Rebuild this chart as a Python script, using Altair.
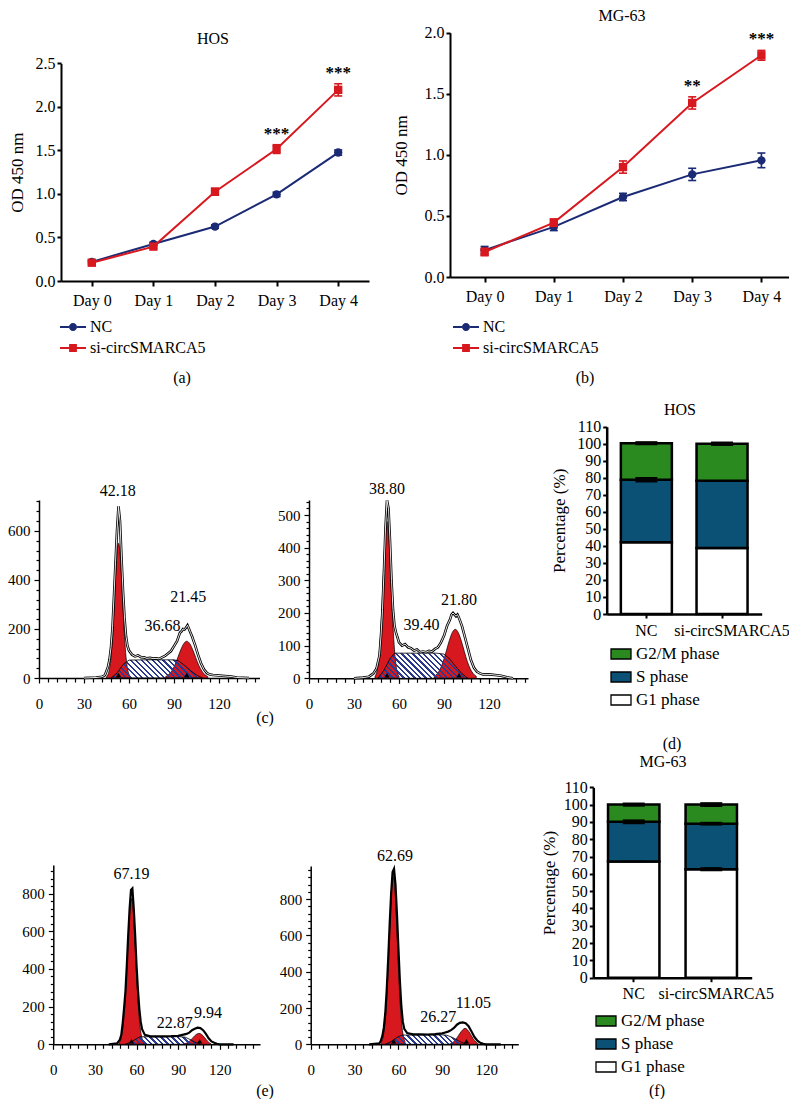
import altair as alt
import pandas as pd

W, H = 781, 1091
OFF = 8
FONT = "Liberation Serif, serif"
BLUE = "#1b2a74"
RED = "#d7191f"
GREEN = "#2b8a1f"
TEAL = "#0b5175"
HATCH = "#2b3a8f"


def px(v):
    return v - OFF


# ---------------- data: growth curves ----------------
days = ["Day 0", "Day 1", "Day 2", "Day 3", "Day 4"]
series = ["NC", "si-circSMARCA5"]

hos_nc = [0.22, 0.425, 0.625, 0.995, 1.475]
hos_nc_err = [0.02, 0.02, 0.02, 0.025, 0.03]
hos_si = [0.21, 0.395, 1.025, 1.515, 2.195]
hos_si_err = [0.02, 0.02, 0.04, 0.05, 0.07]
hos_sig = ["", "", "", "***", "***"]

mg_nc = [0.22, 0.41, 0.655, 0.84, 0.955]
mg_nc_err = [0.03, 0.03, 0.03, 0.05, 0.06]
mg_si = [0.205, 0.445, 0.90, 1.425, 1.815]
mg_si_err = [0.03, 0.03, 0.05, 0.05, 0.04]
mg_sig = ["", "", "", "**", "***"]

# ---------------- data: cell-cycle bars ----------------
phases = ["G1 phase", "S phase", "G2/M phase"]
legend_order = ["G2/M phase", "S phase", "G1 phase"]
groups = ["NC", "si-circSMARCA5"]
hos_nc_pct = [42.18, 36.68, 21.45]
hos_nc_pct_err = [0.3, 1.6, 1.2]
hos_si_pct = [38.80, 39.40, 21.80]
hos_si_pct_err = [0.5, 0.5, 1.3]
mg_nc_pct = [67.19, 22.87, 9.94]
mg_nc_pct_err = [0.4, 1.4, 1.2]
mg_si_pct = [62.69, 26.27, 11.05]
mg_si_pct_err = [1.2, 1.1, 1.4]

# ---------------- data: DNA histograms ----------------
c1_g1_x = [45, 46, 47, 48, 49, 50, 51, 52, 53, 54, 55, 56, 57, 58, 59, 60, 61]
c1_g1_y = [5, 15, 38, 87, 169, 283, 409, 511, 550, 511, 409, 283, 169, 87, 38, 15, 5]
c1_g2_x = [84.5, 86.5, 88.5, 90.5, 92.5, 94.5, 96.5, 98.5, 100.5, 102.5, 104.5, 106.5, 108.5, 110.5, 112.5]
c1_g2_y = [6, 14, 29, 52, 83, 115, 140, 150, 140, 115, 83, 52, 29, 14, 6]
c1_s_x = [48, 52, 56, 60, 70, 80, 90, 93, 97, 101, 105, 109]
c1_s_y = [0, 20, 55, 73, 74, 74, 74, 70, 52, 30, 12, 0]
c1_raw_x = [30, 38, 42, 44, 46, 47, 48, 49, 50, 51, 52, 53, 54, 55, 56, 57, 58, 59, 60, 62,
            64, 66, 68, 70, 72, 74, 76, 78, 80, 82, 84, 86, 88, 90, 92, 94, 95, 96, 97, 98,
            99, 100, 101, 102, 104, 106, 108, 110, 112, 114, 116, 120, 124, 128, 132, 140]
c1_raw_y = [0, 2, 5, 12, 45, 75, 125, 205, 335, 470, 600, 700, 640, 490, 355, 245, 170, 130, 112, 95,
            88, 92, 85, 84, 80, 82, 79, 80, 78, 84, 90, 100, 110, 130, 150, 185, 190, 200, 198, 205,
            215, 200, 185, 170, 135, 95, 60, 35, 20, 14, 12, 10, 8, 6, 2, 0]
c1_tri = [53, 98.5]
c1_labels = ["42.18", "21.45", "36.68"]
c1_label_x = [52.5, 99.5, 82.4]
c1_label_y = [763, 332, 213]

c2_g1_x = [44, 45, 46, 47, 48, 49, 50, 51, 52, 53, 54, 55, 56, 57, 58, 59, 60]
c2_g1_y = [6, 17, 41, 87, 160, 259, 365, 448, 480, 448, 365, 259, 160, 87, 41, 17, 6]
c2_g2_x = [83.5, 85.5, 87.5, 89.5, 91.5, 93.5, 95.5, 97.5, 99.5, 101.5, 103.5, 105.5, 107.5, 109.5, 111.5]
c2_g2_y = [6, 14, 29, 52, 83, 115, 140, 150, 140, 115, 83, 52, 29, 14, 6]
c2_s_x = [46, 50, 54, 57, 65, 75, 85, 90, 94, 98, 102, 106]
c2_s_y = [0, 25, 60, 77, 77, 77, 77, 74, 58, 35, 14, 0]
c2_raw_x = [30, 36, 40, 43, 45, 47, 48, 49, 50, 51, 52, 53, 54, 55, 56, 57, 58, 59, 60, 62,
            64, 66, 68, 70, 72, 74, 76, 78, 80, 82, 84, 86, 88, 90, 92, 94, 95, 96, 97, 98,
            99, 100, 102, 104, 106, 108, 110, 112, 114, 116, 120, 124, 128, 132, 136]
c2_raw_y = [0, 2, 5, 15, 30, 70, 130, 210, 330, 460, 545, 520, 420, 300, 210, 160, 140, 125, 110, 100,
            105, 95, 92, 85, 88, 80, 82, 80, 84, 82, 90, 95, 110, 130, 160, 180, 195, 200, 195, 190,
            195, 185, 160, 125, 90, 55, 32, 20, 15, 12, 12, 10, 8, 3, 0]
c2_tri = [52, 100]
c2_labels = ["38.80", "21.80", "39.40"]
c2_label_x = [52, 100, 75]
c2_label_y = [580, 240, 163]

e1_g1_x = [47.4, 48.4, 49.4, 50.4, 51.4, 52.4, 53.4, 54.4, 55.4, 56.4, 57.4, 58.4, 59.4, 60.4,
           61.4, 62.4, 63.4, 64.4, 65.4]
e1_g1_y = [9, 22, 51, 105, 193, 319, 470, 621, 733, 775, 733, 621, 470, 319, 193, 105, 51, 22, 9]
e1_g2_x = [94, 97, 99, 101, 103, 105, 107, 109, 111, 114]
e1_g2_y = [0, 10, 22, 38, 52, 58, 52, 36, 18, 0]
e1_s_x = [52, 56, 60, 62.5, 70, 80, 90, 95, 99, 102, 106]
e1_s_y = [0, 12, 30, 40, 40, 40, 41, 38, 24, 12, 0]
e1_raw_x = [40, 46, 48, 49, 50, 51, 52, 53, 54, 55, 56, 57, 58, 59, 60, 61, 62, 63, 64, 66,
            70, 75, 80, 85, 90, 93, 96, 98, 100, 102, 104, 106, 108, 110, 112, 114, 116, 118, 120, 130]
e1_raw_y = [0, 5, 25, 50, 110, 190, 280, 420, 580, 720, 820, 828, 720, 580, 420, 290, 190, 120, 80, 50,
            42, 42, 42, 43, 45, 50, 55, 62, 75, 82, 88, 86, 75, 55, 32, 15, 8, 3, 0, 0]
e1_tri = [56.4, 105.5]
e1_labels = ["67.19", "22.87", "9.94"]
e1_label_x = [56.4, 87.6, 111.6]
e1_label_y = [905, 112, 168]

e2_g1_x = [48.5, 49.5, 50.5, 51.5, 52.5, 53.5, 54.5, 55.5, 56.5, 57.5, 58.5, 59.5, 60.5, 61.5,
           62.5, 63.5, 64.5]
e2_g1_y = [16, 41, 93, 187, 333, 521, 717, 868, 925, 868, 717, 521, 333, 187, 93, 41, 16]
e2_g2_x = [95, 98, 100, 102, 104, 105.6, 107, 109, 111, 115]
e2_g2_y = [0, 15, 35, 60, 80, 88, 82, 60, 32, 0]
e2_s_x = [51, 55, 59, 62.5, 70, 80, 90, 93, 97, 101, 104, 107]
e2_s_y = [0, 15, 38, 51, 51, 51, 52, 50, 38, 20, 8, 0]
e2_raw_x = [40, 47, 48, 49, 50, 51, 52, 53, 54, 55, 56, 57, 58, 59, 60, 61, 62, 63, 64, 66,
            70, 75, 80, 85, 90, 92, 94, 96, 98, 100, 102, 104, 106, 108, 110, 112, 114, 116, 118, 120, 130]
e2_raw_y = [0, 5, 20, 45, 90, 170, 300, 470, 660, 830, 950, 968, 880, 720, 530, 350, 210, 125, 85, 62,
            55, 55, 54, 56, 60, 65, 70, 78, 90, 108, 118, 121, 116, 100, 70, 40, 20, 8, 3, 0, 0]
e2_tri = [56.8, 106.5]
e2_labels = ["62.69", "26.27", "11.05"]
e2_label_x = [57.7, 87.3, 111.3]
e2_label_y = [1039, 152, 229]

# ---------------- helpers ----------------
CIRCLE_LEG = ("M-1,-0.07H-0.31V0.07H-1Z M0.31,-0.07H1V0.07H0.31Z "
              "M0.31,0C0.31,0.171 0.171,0.31 0,0.31C-0.171,0.31 -0.31,0.171 -0.31,0"
              "C-0.31,-0.171 -0.171,-0.31 0,-0.31C0.171,-0.31 0.31,-0.171 0.31,0Z")
SQUARE_LEG = "M-1,-0.07H-0.3V0.07H-1Z M0.3,-0.07H1V0.07H0.3Z M-0.3,-0.3H0.3V0.3H-0.3Z"
RECT_LEG = "M-1,-0.5H1V0.5H-1Z"


def text_at(txt, x, y, size=16, weight="normal"):
    return alt.Chart(pd.DataFrame({"t": [txt]})).mark_text(
        font=FONT, fontSize=size, fontWeight=weight, align="center", baseline="middle", color="black"
    ).encode(x=alt.value(px(x)), y=alt.value(px(y)), text="t:N")


def hatch_fill(w, h, period=5.5, frac=0.42):
    """Diagonal '\\' hatch as a striped linear gradient over the mark's bounding box."""
    r = h / w
    s = (1 + r) / (1 + r * r)
    n = max(4, int(round((w + h) / period)))
    clear = "rgba(255,255,255,0)"
    stops = []
    for i in range(n):
        a = i / n
        b = (i + 1 - frac) / n
        c = (i + 1) / n
        stops += [{"offset": a, "color": clear}, {"offset": b, "color": clear},
                  {"offset": b, "color": HATCH}, {"offset": c, "color": HATCH}]
    return {"gradient": "linear", "x1": 0, "y1": 1, "x2": s, "y2": 1 - s * r, "stops": stops}


def growth_panel(nc, nc_err, si, si_err, sig, ymax, x0, x1, ybot, ytop, title_pad, leg_x, leg_y):
    rows = []
    for s, vals, errs, sg in ((series[0], nc, nc_err, [""] * 5), (series[1], si, si_err, sig)):
        for d, v, e, g in zip(days, vals, errs, sg):
            rows.append({"day": d, "series": s, "od": v, "lo": v - e, "hi": v + e, "sig": g})
    df = pd.DataFrame(rows)
    xs = alt.Scale(type="point", domain=days, range=[px(x0), px(x1)], padding=0.5)
    ys = alt.Scale(domain=[0, ymax], range=[px(ybot), px(ytop)], nice=False, zero=False)
    xa = alt.Axis(orient="bottom", offset=px(ybot) - H, title=None, labelAngle=0, labelFontSize=16,
                  labelPadding=6, tickSize=5, tickWidth=2, domainWidth=2, grid=False)
    yvals = [round(i * 0.5, 1) for i in range(int(round(ymax / 0.5)) + 1)]
    ya = alt.Axis(orient="left", offset=-px(x0), title="OD 450 nm", values=yvals, format=".1f",
                  labelFontSize=16, labelPadding=2, tickSize=4, tickWidth=2, domainWidth=2,
                  titleFontSize=17, titleFontWeight="normal", titlePadding=title_pad, grid=False)
    X = alt.X("day:N", scale=xs, axis=xa, sort=days)
    base = alt.Chart(df)
    layers = []
    for s, col, shp in ((series[0], BLUE, "circle"), (series[1], RED, "square")):
        b = base.transform_filter(alt.datum.series == s)
        layers.append(b.mark_line(color=col, strokeWidth=2).encode(
            x=X, y=alt.Y("od:Q", scale=ys, axis=ya)))
        layers.append(b.mark_rule(color=col, strokeWidth=1.6).encode(
            x=X, y=alt.Y("lo:Q", scale=ys, axis=ya), y2="hi:Q"))
        for f in ("lo", "hi"):
            layers.append(b.mark_tick(color=col, size=8, thickness=1.6, opacity=1).encode(
                x=X, y=alt.Y(f"{f}:Q", scale=ys, axis=ya)))
        layers.append(b.mark_point(shape=shp, filled=True, size=70, color=col, opacity=1).encode(
            x=X, y=alt.Y("od:Q", scale=ys, axis=ya)))
    layers.append(base.transform_filter(alt.datum.sig != "").mark_text(
        font=FONT, fontSize=17, fontWeight="bold", baseline="middle", dy=-11, color="black").encode(
        x=X, y=alt.Y("hi:Q", scale=ys, axis=ya), text="sig:N"))
    leg = alt.Legend(orient="none", legendX=px(leg_x), legendY=px(leg_y), title=None, labelFont=FONT,
                     labelFontSize=16, symbolSize=676, symbolOpacity=1, symbolStrokeWidth=0,
                     rowPadding=-1, labelOffset=4, padding=0)
    layers.append(base.transform_filter(alt.datum.day == days[0]).mark_point(
        filled=True, opacity=0, size=1).encode(
        x=X, y=alt.Y("od:Q", scale=ys, axis=ya),
        color=alt.Color("series:N", scale=alt.Scale(domain=series, range=[BLUE, RED]), legend=leg),
        shape=alt.Shape("series:N", scale=alt.Scale(domain=series, range=[CIRCLE_LEG, SQUARE_LEG]),
                        legend=leg)))
    return alt.layer(*layers)


def bar_panel(nc_pct, nc_err, si_pct, si_err, x0, x1, pin, pout, ybot, ytop, title_pad,
              leg_x, leg_y, si_off):
    rows, erows = [], []
    for g, vals, es in ((groups[0], nc_pct, nc_err), (groups[1], si_pct, si_err)):
        cum = 0.0
        for ph, v, e in zip(phases, vals, es):
            rows.append({"grp": g, "phase": ph, "y0": cum, "y1": cum + v})
            cum += v
            erows.append({"grp": g, "lo": cum - e, "hi": cum + e})
    df = pd.DataFrame(rows)
    edf = pd.DataFrame(erows)
    xs = alt.Scale(type="band", domain=groups, range=[px(x0), px(x1)], paddingInner=pin, paddingOuter=pout)
    ys = alt.Scale(domain=[0, 110], range=[px(ybot), px(ytop)], nice=False, zero=False)
    xa = alt.Axis(orient="bottom", offset=px(ybot) - H, title=None, labelAngle=0, labelFontSize=16,
                  labelPadding=4, tickSize=4, tickWidth=2, domainWidth=2.5, grid=False,
                  labelOffset={"condition": {"test": "datum.value === 'NC'", "value": 0}, "value": si_off})
    ya = alt.Axis(orient="left", offset=-px(x0), title="Percentage (%)", values=list(range(0, 111, 10)),
                  labelFontSize=16, labelPadding=2, tickSize=4, tickWidth=2, domainWidth=2.5,
                  titleFontSize=17, titleFontWeight="normal", titlePadding=title_pad, grid=False)
    X = alt.X("grp:N", scale=xs, axis=xa, sort=groups)
    leg = alt.Legend(orient="none", legendX=px(leg_x), legendY=px(leg_y), title=None, labelFont=FONT,
                     labelFontSize=17, symbolType=RECT_LEG, symbolSize=400, symbolStrokeColor="black",
                     symbolStrokeWidth=1.3, symbolOpacity=1, rowPadding=4, labelOffset=4, padding=0)
    bars = alt.Chart(df).mark_bar(stroke="black", strokeWidth=2.5).encode(
        x=X, y=alt.Y("y0:Q", scale=ys, axis=ya), y2="y1:Q",
        color=alt.Color("phase:N", scale=alt.Scale(domain=legend_order, range=[GREEN, TEAL, "white"]),
                        legend=leg))
    errs = alt.Chart(edf).mark_bar(color="black", width=22).encode(
        x=X, y=alt.Y("lo:Q", scale=ys, axis=ya), y2="hi:Q")
    return alt.layer(bars, errs)


def hist_panel(raw_x, raw_y, g1_x, g1_y, g2_x, g2_y, s_x, s_y, tri, labels, lab_x, lab_y,
               xmax, xr, ymax, yr, ystep, ylab, double):
    parts = []
    for name, xs_, ys_ in (("raw", raw_x, raw_y), ("g1", g1_x, g1_y), ("g2", g2_x, g2_y), ("s", s_x, s_y)):
        parts.append(pd.DataFrame({"part": name, "ch": xs_, "count": ys_}))
    parts.append(pd.DataFrame({"part": "tri", "ch": tri, "count": [0] * len(tri)}))
    df = pd.concat(parts, ignore_index=True)
    ldf = pd.DataFrame({"label": labels, "ch": lab_x, "count": lab_y})
    xs = alt.Scale(domain=[0, xmax], range=[px(xr[0]), px(xr[1])], nice=False, zero=False)
    ys = alt.Scale(domain=[0, ymax], range=[px(yr[0]), px(yr[1])], nice=False, zero=False)
    xa = alt.Axis(orient="bottom", offset=px(yr[0]) - H, title=None,
                  values=list(range(0, int(xmax) + 1, 6)),
                  labelExpr="datum.value % 30 === 0 ? datum.label : ''",
                  labelFontSize=15, labelPadding=13, labelAngle=0, labelOverlap=False, labelFlush=False,
                  labelBound=False,
                  tickSize={"condition": {"test": "datum.value % 30 === 0", "value": 5}, "value": 4},
                  tickWidth=1.2, domainWidth=1.5, grid=False)
    ya = alt.Axis(orient="left", offset=-px(xr[0]), title=None,
                  values=list(range(0, int(ymax) + 1, ystep)),
                  labelExpr=f"datum.value % {ylab} === 0 ? datum.label : ''",
                  labelFontSize=15, labelPadding=4, labelOverlap=False, labelFlush=False, labelBound=False,
                  tickSize={"condition": {"test": f"datum.value % {ylab} === 0", "value": 5}, "value": 3},
                  tickWidth=1.2, domainWidth=1.5, grid=False)
    X = alt.X("ch:Q", scale=xs, axis=xa)
    Y = alt.Y("count:Q", scale=ys, axis=ya)
    pxu = (xr[1] - xr[0]) / xmax
    pyu = (yr[0] - yr[1]) / ymax
    hatch = hatch_fill((max(s_x) - min(s_x)) * pxu, max(s_y) * pyu)
    base = alt.Chart(df)
    layers = [
        base.transform_filter(alt.datum.part == "g1").mark_area(
            fill=RED, stroke="black", strokeWidth=0.7, opacity=1, interpolate="monotone").encode(x=X, y=Y),
        base.transform_filter(alt.datum.part == "g2").mark_area(
            fill=RED, stroke="black", strokeWidth=0.7, opacity=1, interpolate="monotone").encode(x=X, y=Y),
        base.transform_filter(alt.datum.part == "s").mark_area(
            fill=hatch, stroke="black", strokeWidth=0.8, opacity=1, interpolate="linear").encode(x=X, y=Y),
        base.transform_filter(alt.datum.part == "raw").mark_line(
            color="black", strokeWidth=2.6 if double else 2.2).encode(x=X, y=Y),
    ]
    if double:
        layers.append(base.transform_filter(alt.datum.part == "raw").mark_line(
            color="white", strokeWidth=0.9).encode(x=X, y=Y))
    layers.append(base.transform_filter(alt.datum.part == "tri").mark_point(
        shape="triangle-up", filled=True, color="black", size=28, opacity=1, yOffset=-3).encode(x=X, y=Y))
    layers.append(alt.Chart(ldf).mark_text(font=FONT, fontSize=16, color="black", baseline="middle").encode(
        x=X, y=Y, text="label:N"))
    return alt.layer(*layers)


# ---------------- panels ----------------
pa = growth_panel(hos_nc, hos_nc_err, hos_si, hos_si_err, hos_sig, 2.5, 61, 369, 281, 63.3, 9, 60, 314)
pb = growth_panel(mg_nc, mg_nc_err, mg_si, mg_si_err, mg_sig, 2.0, 450, 796, 277, 32.7, 14, 453, 314)

pc1 = hist_panel(c1_raw_x, c1_raw_y, c1_g1_x, c1_g1_y, c1_g2_x, c1_g2_y, c1_s_x, c1_s_y, c1_tri,
                 c1_labels, c1_label_x, c1_label_y, 147, (39, 259.5), 726, (678, 500), 40, 200, True)
pc2 = hist_panel(c2_raw_x, c2_raw_y, c2_g1_x, c2_g1_y, c2_g2_x, c2_g2_y, c2_s_x, c2_s_y, c2_tri,
                 c2_labels, c2_label_x, c2_label_y, 146, (309, 528), 546, (678.3, 500), 20, 100, True)
pe1 = hist_panel(e1_raw_x, e1_raw_y, e1_g1_x, e1_g1_y, e1_g2_x, e1_g2_y, e1_s_x, e1_s_y, e1_tri,
                 e1_labels, e1_label_x, e1_label_y, 149, (53.3, 260), 952, (1044.3, 865), 40, 200, False)
pe2 = hist_panel(e2_raw_x, e2_raw_y, e2_g1_x, e2_g1_y, e2_g2_x, e2_g2_y, e2_s_x, e2_s_y, e2_tri,
                 e2_labels, e2_label_x, e2_label_y, 142, (310.7, 518.3), 983, (1044.3, 866), 40, 200, False)

pd_ = bar_panel(hos_nc_pct, hos_nc_pct_err, hos_si_pct, hos_si_pct_err, 606.7, 761.7, 0.326, 0.187,
                614, 426.7, 8, 610, 643, 10)
pf = bar_panel(mg_nc_pct, mg_nc_pct_err, mg_si_pct, mg_si_pct_err, 593.3, 751.7, 0.337, 0.19,
               977.7, 787.3, 5, 595, 1010, 5)

texts = [
    text_at("HOS", 213, 39), text_at("MG-63", 622, 16),
    text_at("HOS", 680, 410), text_at("MG-63", 663, 762),
    text_at("(a)", 182, 378), text_at("(b)", 585, 378),
    text_at("(c)", 265, 718), text_at("(d)", 672, 744),
    text_at("(e)", 265, 1091), text_at("(f)", 657, 1091),
]

chart = alt.layer(pa, pb, pc1, pc2, pd_, pe1, pe2, pf, *texts).resolve_scale(
    x="independent", y="independent", color="independent", shape="independent"
).properties(
    width=W, height=H, autosize=alt.AutoSizeParams(type="none"), padding=0, background="white"
).configure_view(stroke=None).configure_axis(
    labelFont=FONT, titleFont=FONT, domainColor="black", tickColor="black", labelColor="black",
    titleColor="black", grid=False
).configure_legend(labelFont=FONT, labelColor="black")

chart.save("out.html", embed_options={"renderer": "svg", "actions": False})
